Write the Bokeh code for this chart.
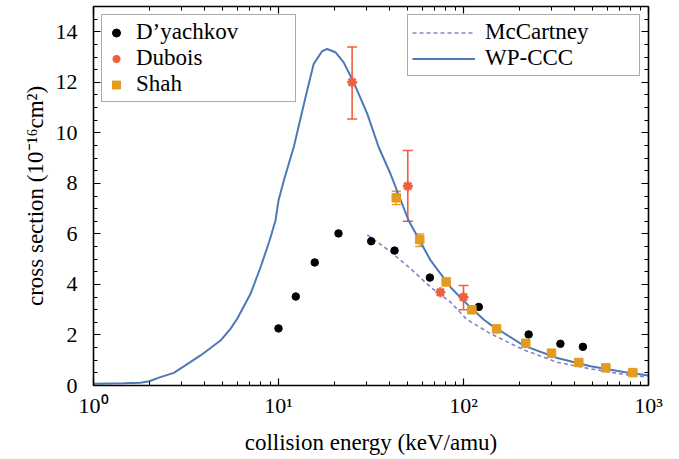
from bokeh.plotting import figure
from bokeh.models import (ColumnDataSource, Whisker, TeeHead, Legend, LegendItem,
                          LogAxis, LinearAxis, LogTicker, SingleIntervalTicker,
                          CustomJSTickFormatter, Range1d)
from bokeh.embed import file_html
from bokeh.resources import INLINE

# ---------------- data ----------------
dyachkov_e = [10.0, 12.4, 15.7, 21.1, 31.7, 42.4, 65.8, 121, 225, 334, 442]
dyachkov_s = [2.26, 3.52, 4.87, 6.02, 5.71, 5.34, 4.27, 3.11, 2.02, 1.65, 1.53]

dubois_e = [25, 50, 75, 100]
dubois_s = [12.0, 7.89, 3.69, 3.49]
dubois_lo = [10.55, 6.5, 3.69, 3.0]
dubois_hi = [13.4, 9.3, 3.69, 3.96]

shah_e = [43.3, 58.0, 80.6, 111, 151, 217, 299, 420, 588, 823]
shah_s = [7.43, 5.78, 4.1, 3.0, 2.24, 1.67, 1.28, 0.91, 0.70, 0.51]
shah_lo = [7.16, 5.5, 4.1, 3.0, 2.24, 1.67, 1.28, 0.91, 0.70, 0.51]
shah_hi = [7.69, 6.0, 4.1, 3.0, 2.24, 1.67, 1.28, 0.91, 0.70, 0.51]

mccartney_e = [30.2, 40.3, 51.8, 66.4, 85.1, 104, 140, 212, 321, 486, 735, 984]
mccartney_s = [5.96, 5.30, 4.62, 3.89, 3.30, 2.62, 2.05, 1.41, 0.92, 0.66, 0.44, 0.33]

wpccc_e = [1.0, 1.46, 1.79, 2.0, 2.30, 2.72, 3.79, 4.86, 5.50, 5.98, 7.06, 8.0,
           8.95, 9.63, 10.0, 10.69, 12.1, 14.0, 15.5, 17.2, 18.3, 20.3, 22.5,
           25.5, 30.2, 34.8, 40.3, 50.5, 66.4, 85.1, 100, 109, 129, 140, 212,
           321, 486, 735, 1000]
wpccc_s = [0.07, 0.09, 0.11, 0.17, 0.33, 0.50, 1.19, 1.78, 2.24, 2.64, 3.63, 4.68,
           5.74, 6.53, 7.32, 8.11, 9.45, 11.41, 12.73, 13.23, 13.32, 13.19, 12.79,
           12.0, 10.75, 9.43, 8.38, 6.53, 4.95, 3.89, 3.36, 3.10, 2.60, 2.41, 1.58,
           1.09, 0.76, 0.53, 0.40]

x_tick_values = [1, 10, 100, 1000]
x_tick_labels = ["10\u2070", "10\u00b9", "10\u00b2", "10\u00b3"]

# ---------------- style ----------------
FONT = "serif"
BLUE = "#4f78b8"
PURPLE = "#8d80c8"
RED = "#ee5f3b"
ORANGE = "#e39c1f"

p = figure(width=679, height=459, x_axis_type="log", output_backend="svg",
           toolbar_location=None, x_range=Range1d(1, 1000), y_range=Range1d(0, 15),
           min_border_left=93, min_border_right=31, min_border_top=6,
           min_border_bottom=74, x_axis_location=None, y_axis_location=None)
p.grid.visible = False
p.outline_line_color = None
p.background_fill_color = "white"

def style_axis(ax, show_labels):
    ax.axis_line_width = 1.6
    ax.axis_line_color = "black"
    ax.major_tick_in = 7
    ax.major_tick_out = 0
    ax.minor_tick_in = 4
    ax.minor_tick_out = 0
    ax.major_tick_line_width = 1.2
    ax.minor_tick_line_width = 1.0
    ax.major_label_text_font = FONT
    ax.major_label_text_font_size = "22px"
    ax.major_label_text_color = "black"
    ax.axis_label_text_font = FONT
    ax.axis_label_text_font_size = "23px"
    ax.axis_label_text_font_style = "normal"
    ax.axis_label_text_color = "black"
    if not show_labels:
        ax.formatter = CustomJSTickFormatter(code="return ''")
        ax.major_label_standoff = 0
        ax.major_label_text_font_size = "0px"

xb = LogAxis(ticker=LogTicker(desired_num_ticks=3, num_minor_ticks=10),
             axis_label="collision energy (keV/amu)")
style_axis(xb, True)
xb.major_label_overrides = dict(zip(x_tick_values, x_tick_labels))
xb.major_label_standoff = 7
xb.axis_label_standoff = 9
p.add_layout(xb, "below")

xt = LogAxis(ticker=LogTicker(desired_num_ticks=3, num_minor_ticks=10))
style_axis(xt, False)
p.add_layout(xt, "above")

yl = LinearAxis(ticker=SingleIntervalTicker(interval=2, num_minor_ticks=4),
                axis_label="cross section (10\u207b\u00b9\u2076cm\u00b2)")
style_axis(yl, True)
yl.major_label_standoff = 16
yl.axis_label_standoff = 5
p.add_layout(yl, "left")

yr = LinearAxis(ticker=SingleIntervalTicker(interval=2, num_minor_ticks=4))
style_axis(yr, False)
p.add_layout(yr, "right")

# ---------------- glyphs ----------------
r_wp = p.line(wpccc_e, wpccc_s, line_color=BLUE, line_width=2)
r_mc = p.line(mccartney_e, mccartney_s, line_color=PURPLE, line_width=1.6,
              line_dash="4 3")

dub_src = ColumnDataSource(dict(x=dubois_e, y=dubois_s, lo=dubois_lo, hi=dubois_hi))
shah_src = ColumnDataSource(dict(x=shah_e, y=shah_s, lo=shah_lo, hi=shah_hi))

# only draw whiskers where the bar is visible
dub_err = ColumnDataSource(dict(
    x=[e for e, l, h in zip(dubois_e, dubois_lo, dubois_hi) if h - l > 0],
    lo=[l for l, h in zip(dubois_lo, dubois_hi) if h - l > 0],
    hi=[h for l, h in zip(dubois_lo, dubois_hi) if h - l > 0]))
shah_err = ColumnDataSource(dict(
    x=[e for e, l, h in zip(shah_e, shah_lo, shah_hi) if h - l > 0],
    lo=[l for l, h in zip(shah_lo, shah_hi) if h - l > 0],
    hi=[h for l, h in zip(shah_lo, shah_hi) if h - l > 0]))

w1 = Whisker(source=dub_err, base="x", lower="lo", upper="hi",
             line_color=RED, line_width=1.6,
             upper_head=TeeHead(size=10, line_color=RED, line_width=1.6),
             lower_head=TeeHead(size=10, line_color=RED, line_width=1.6))
w2 = Whisker(source=shah_err, base="x", lower="lo", upper="hi",
             line_color=ORANGE, line_width=1.4,
             upper_head=TeeHead(size=9, line_color=ORANGE, line_width=1.4),
             lower_head=TeeHead(size=9, line_color=ORANGE, line_width=1.4))
p.add_layout(w1)
p.add_layout(w2)

r_dy = p.scatter(dyachkov_e, dyachkov_s, marker="circle", size=7.5,
                 fill_color="black", line_color="black")
r_du = p.scatter("x", "y", source=dub_src, marker="asterisk", size=10,
                 line_color=RED, line_width=2.6)
r_sh = p.scatter("x", "y", source=shah_src, marker="square", size=8.5,
                 fill_color=ORANGE, line_color=ORANGE)

def style_legend(lg):
    lg.label_text_font = FONT
    lg.label_text_font_size = "23px"
    lg.label_text_line_height = 1.0
    lg.label_text_color = "black"
    lg.border_line_color = "#555555"
    lg.border_line_width = 1
    lg.background_fill_alpha = 1
    lg.spacing = 0
    lg.label_height = 21
    lg.glyph_height = 21
    lg.padding = 4
    lg.label_standoff = 10
    lg.margin = 8

leg1 = Legend(items=[LegendItem(label="D\u2019yachkov", renderers=[r_dy]),
                     LegendItem(label="Dubois", renderers=[r_du]),
                     LegendItem(label="Shah", renderers=[r_sh])],
              location="top_left")
style_legend(leg1)
leg1.glyph_width = 20
leg1.label_width = 155

leg2 = Legend(items=[LegendItem(label="McCartney", renderers=[r_mc]),
                     LegendItem(label="WP-CCC", renderers=[r_wp])],
              location="top_right")
style_legend(leg2)
leg2.glyph_width = 63
leg2.label_width = 150

p.add_layout(leg1)
p.add_layout(leg2)

open("out.html", "w").write(file_html(p, INLINE))
